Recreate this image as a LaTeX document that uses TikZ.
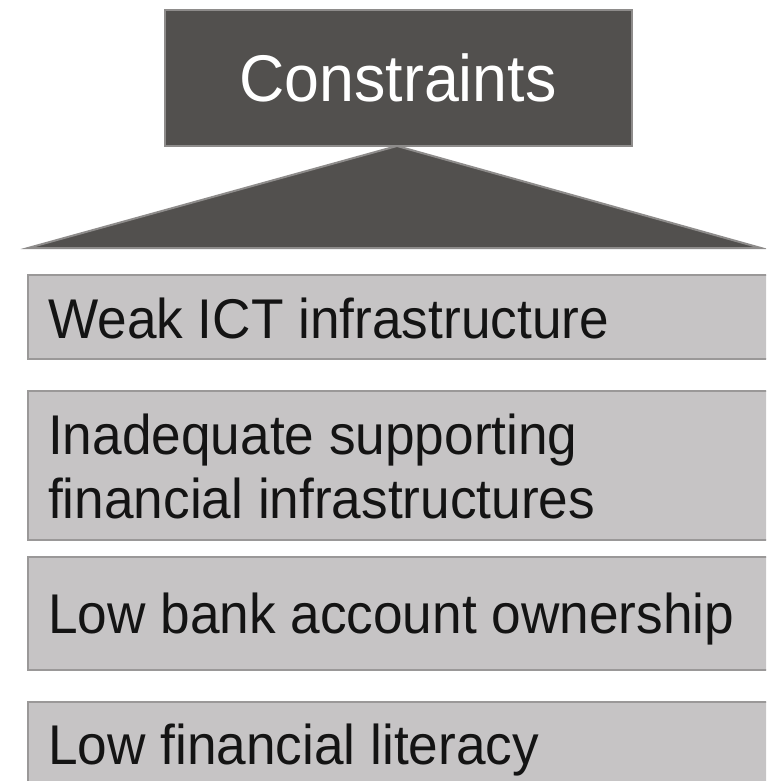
\documentclass[tikz,border=0pt]{standalone}
\usepackage{fontspec}
\setmainfont[FakeStretch=0.95]{Liberation Sans}
\definecolor{darkfill}{HTML}{52504E}
\definecolor{edgegray}{HTML}{8E8C8B}
\definecolor{barfill}{HTML}{C6C4C5}
\definecolor{baredge}{HTML}{9A9898}
\definecolor{bartext}{HTML}{141414}
\tikzset{
  titlebox/.style={draw=edgegray, fill=darkfill, line width=2pt, inner sep=0pt, anchor=north west},
  barbox/.style={draw=baredge, fill=barfill, line width=2pt, inner sep=0pt, anchor=north west},
  bartxt/.style={anchor=base west, inner sep=0pt, text=bartext, font=\fontsize{56}{64}\selectfont, align=left},
}
\begin{document}
\begin{tikzpicture}[x=1pt,y=-1pt]
\clip (0,0) rectangle (766,781);
\fill[white] (0,0) rectangle (766,781);
% title
\node[titlebox, minimum width=467pt, minimum height=136pt] (title) at (164,9) {};
\node[text=white, font=\fontsize{66}{72}\selectfont, anchor=base, inner sep=0pt] (titletxt) at (398,102) {Constraints};
% roof triangle
\coordinate (apex) at (397,146);
\coordinate (bl) at (28,248);
\coordinate (br) at (761,248);
\filldraw[draw=edgegray, fill=darkfill, line width=2pt, line join=miter] (apex) -- (br) -- (bl) -- cycle;
% bars
\node[barbox, minimum width=780pt, minimum height=84pt] (b1) at (27,274) {};
\node[bartxt] (t1) at (48,338) {Weak ICT infrastructure};
\node[barbox, minimum width=780pt, minimum height=149pt] (b2) at (27,390) {};
\node[bartxt] (t2a) at (48,454) {Inadequate supporting};
\node[bartxt] (t2b) at (48,518) {financial infrastructures};
\node[barbox, minimum width=780pt, minimum height=113pt] (b3) at (27,556) {};
\node[bartxt] (t3) at (48,633) {Low bank account ownership};
\node[barbox, minimum width=780pt, minimum height=120pt] (b4) at (27,701) {};
\node[bartxt] (t4) at (48,764) {Low financial literacy};
\end{tikzpicture}
\end{document}
